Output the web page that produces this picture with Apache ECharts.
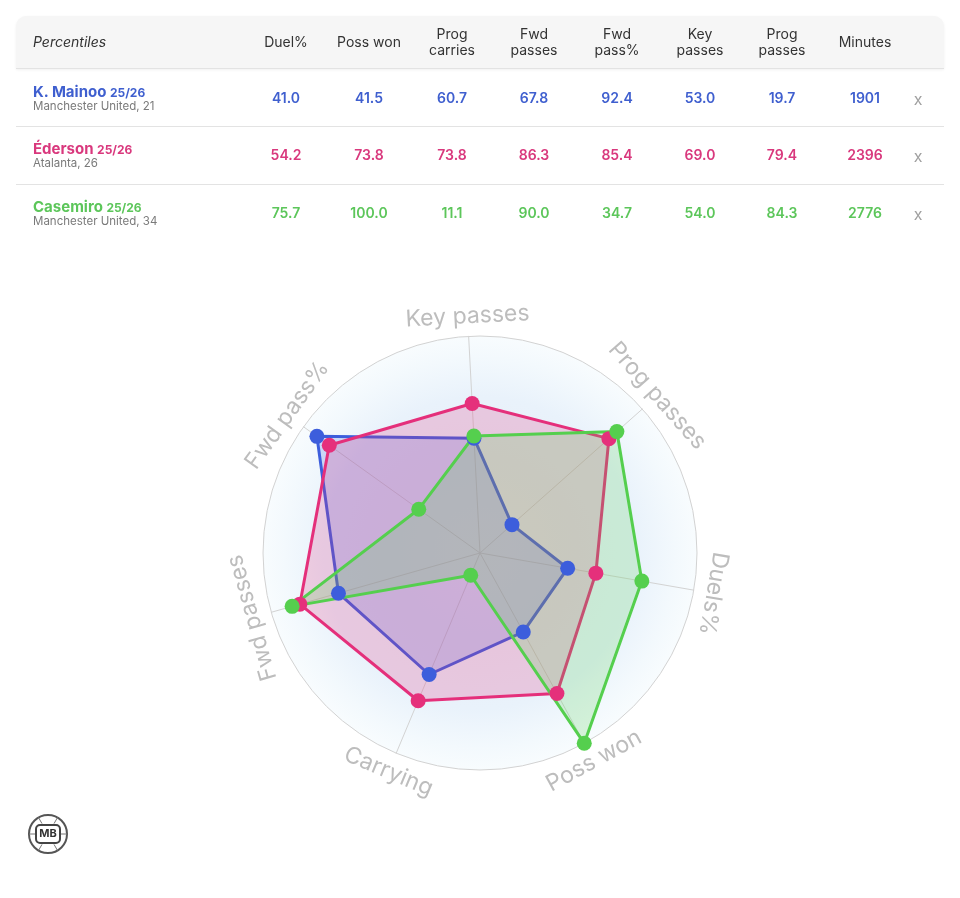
<!DOCTYPE html>
<html>
<head>
<meta charset="utf-8">
<script src="https://cdn.jsdelivr.net/npm/echarts@6/dist/echarts.min.js"></script>
<style>
  html, body { margin: 0; padding: 0; background: #fff; }
  body { width: 960px; height: 898px; position: relative; overflow: hidden; font-family: Inter, "Noto Sans", sans-serif; }
  #main { position: absolute; left: 0; top: 0; width: 960px; height: 898px; }
  #tbl { position: absolute; left: 16px; top: 16px; width: 928px; height: 226px; }
  .head { position: absolute; left: 0; top: 0; width: 928px; height: 52px; background: #f6f6f6;
          border-radius: 10px 10px 0 0; border-bottom: 1px solid #e3e3e3; box-shadow: 0 1px 3px rgba(0,0,0,0.06); }
  .row { position: absolute; left: 0; width: 928px; border-bottom: 1px solid #e3e3e3; }
  .cell { position: absolute; transform: translate(-50%, -50%); text-align: center; white-space: nowrap; }
  .hcell { font-size: 14px; color: #333; line-height: 16px; }
  .val { font-size: 14px; font-weight: 600; }
  .name { position: absolute; left: 17px; font-size: 15px; font-weight: 700; line-height: 16px; }
  .name small { font-size: 12px; font-weight: 700; }
  .club { position: absolute; left: 17px; font-size: 11.5px; color: #7a7a7a; line-height: 13px; }
  .xx { font-size: 16px; color: #a0a0a0; }
</style>
</head>
<body>
<div id="main"></div>
<div id="tbl"></div>
<script>
// table data
var players = ['K. Mainoo', 'Éderson', 'Casemiro'];
var seasons = ['25/26', '25/26', '25/26'];
var clubs = ['Manchester United, 21', 'Atalanta, 26', 'Manchester United, 34'];
var colors = ['#3d5edc', '#e5307b', '#55cf4e'];
var textColors = ['#3f5fcf', '#d9387d', '#5cc65a'];
var columns = ['Duel%', 'Poss won', 'Prog<br>carries', 'Fwd<br>passes', 'Fwd<br>pass%', 'Key<br>passes', 'Prog<br>passes', 'Minutes'];

// Duel%, Poss won, Prog carries, Fwd passes, Fwd pass%, Key passes, Prog passes
var mainooVals = [41.0, 41.5, 60.7, 67.8, 92.4, 53.0, 19.7];
var edersonVals = [54.2, 73.8, 73.8, 86.3, 85.4, 69.0, 79.4];
var casemiroVals = [75.7, 100.0, 11.1, 90.0, 34.7, 54.0, 84.3];
var minutes = [1901, 2396, 2776];
var allVals = [mainooVals, edersonVals, casemiroVals];

// radar axes (counter-clockwise from top) and which table column they use
var radarAxes = ['Key passes', 'Fwd pass%', 'Fwd passes', 'Carrying', 'Poss won', 'Duels%', 'Prog passes'];
var radarIdx = [5, 4, 3, 2, 1, 0, 6];

// ---- build the table ----
var colX = [270, 353, 436, 518, 601, 684, 766, 849];
var tbl = document.getElementById('tbl');
var html = '<div class="head"></div>';
html += '<div class="cell hcell" style="left:17px;top:26px;transform:translate(0,-50%);font-style:italic;">Percentiles</div>';
columns.forEach(function (c, i) {
  html += '<div class="cell hcell" style="left:' + colX[i] + 'px;top:26px;">' + c + '</div>';
});
var rowTops = [53, 110, 168];
var rowH = [57, 58, 58];
players.forEach(function (p, r) {
  var top = rowTops[r];
  var mid = top + 28;
  html += '<div class="row" style="top:' + top + 'px;height:' + rowH[r] + 'px;' + (r === 2 ? 'border-bottom:none;' : '') + '"></div>';
  html += '<div class="name" style="top:' + (top + 15) + 'px;color:' + textColors[r] + '">' + p + ' <small>' + seasons[r] + '</small></div>';
  html += '<div class="club" style="top:' + (top + 31) + 'px;">' + clubs[r] + '</div>';
  allVals[r].forEach(function (v, i) {
    html += '<div class="cell val" style="left:' + colX[i] + 'px;top:' + mid + 'px;color:' + textColors[r] + '">' + v.toFixed(1) + '</div>';
  });
  html += '<div class="cell val" style="left:' + colX[7] + 'px;top:' + mid + 'px;color:' + textColors[r] + '">' + minutes[r] + '</div>';
  html += '<div class="cell xx" style="left:902px;top:' + (mid + 2) + 'px;">x</div>';
});
tbl.innerHTML = html;

// ---- radar ----
var cx = 480, cy = 553, R = 217, startAngle = 93;
var chart = echarts.init(document.getElementById('main'));

var graphics = [];
// soft background glow
graphics.push({
  type: 'circle', z: -10, silent: true,
  shape: { cx: cx, cy: cy, r: R },
  style: {
    fill: {
      type: 'radial', x: 0.5, y: 0.5, r: 0.5,
      colorStops: [
        { offset: 0, color: '#eef1f5' },
        { offset: 0.45, color: '#e8eff8' },
        { offset: 0.72, color: '#e9f2fb' },
        { offset: 0.9, color: '#f3f9fd' },
        { offset: 1, color: '#f8fcfe' }
      ]
    }
  }
});
// rotated axis names
radarAxes.forEach(function (name, i) {
  var a = startAngle + i * 360 / 7;
  var rad = a * Math.PI / 180;
  var rot = a - 90;
  if (Math.sin(rad) < -0.5) rot += 180;
  graphics.push({
    type: 'text',
    x: cx + 237 * Math.cos(rad),
    y: cy - 237 * Math.sin(rad),
    rotation: rot * Math.PI / 180,
    style: {
      text: name, fill: '#bdbdbd', font: '23px Inter, "Noto Sans", sans-serif',
      textAlign: 'center', textVerticalAlign: 'middle'
    }
  });
});
// logo
graphics.push({ type: 'circle', shape: { cx: 48, cy: 834, r: 19 }, style: { fill: '#fff', stroke: '#555', lineWidth: 2 } });
[0, 60, 120, 180, 240, 300].forEach(function (d) {
  var t = d * Math.PI / 180;
  graphics.push({ type: 'line', shape: { x1: 48 + 12 * Math.cos(t), y1: 834 + 12 * Math.sin(t), x2: 48 + 19 * Math.cos(t), y2: 834 + 19 * Math.sin(t) }, style: { stroke: '#777', lineWidth: 1 } });
});
graphics.push({ type: 'rect', shape: { x: 36, y: 825, width: 24, height: 18, r: 4 }, style: { fill: '#fff', stroke: '#444', lineWidth: 2 } });
graphics.push({ type: 'text', x: 48, y: 834, style: { text: 'MB', fill: '#333', font: 'bold 11px Inter, sans-serif', textAlign: 'center', textVerticalAlign: 'middle' } });

var seriesList = players.map(function (p, r) {
  return {
    name: p,
    type: 'radar',
    symbol: 'circle',
    symbolSize: 15,
    lineStyle: { width: 3, color: colors[r] },
    itemStyle: { color: colors[r] },
    areaStyle: { color: colors[r], opacity: 0.21 },
    data: [{ name: p, value: radarIdx.map(function (k) { return allVals[r][k]; }) }]
  };
});

var option = {
  animation: false,
  radar: {
    center: [cx, cy],
    radius: R,
    startAngle: startAngle,
    shape: 'circle',
    splitNumber: 5,
    indicator: radarAxes.map(function (n) { return { name: n, min: 0, max: 100 }; }),
    axisName: { show: false },
    axisLine: { lineStyle: { color: '#d3d3d3', width: 1 } },
    splitLine: { lineStyle: { color: ['rgba(0,0,0,0)', 'rgba(0,0,0,0)', 'rgba(0,0,0,0)', 'rgba(0,0,0,0)', 'rgba(0,0,0,0)', '#d2d2d2'], width: 1 } },
    splitArea: { show: false }
  },
  graphic: graphics,
  series: seriesList
};
chart.setOption(option);
</script>
</body>
</html>
